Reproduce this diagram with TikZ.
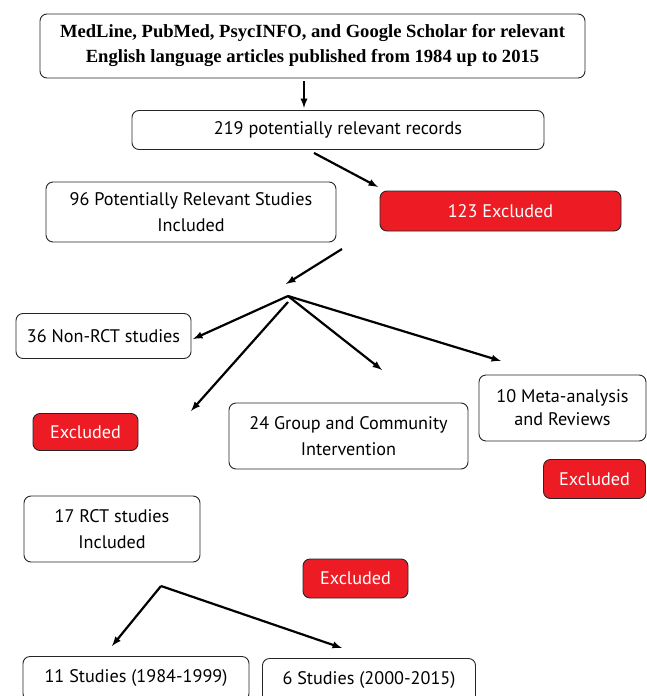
\documentclass[tikz,border=0pt]{standalone}
\usepackage{fontspec}
\setmainfont{PT Sans}
\newfontfamily\headfont{Liberation Serif}
\definecolor{exred}{HTML}{ED1C24}
\tikzset{
	recbox/.style={draw=black!85, rounded corners=7pt, line width=0.9pt, align=center, inner sep=0pt, font=\fontsize{18.2}{26.5}\selectfont},
	exbox/.style={recbox, fill=exred, text=white},
	flow/.style={-latex, line width=2.2pt},
}
\begin{document}
\begin{tikzpicture}[x=1pt, y=-1pt]
			\path[use as bounding box] (0,0) rectangle (647,696);
			% boxes
			\node[recbox, minimum width=545, minimum height=64, font=\headfont\bfseries\fontsize{18.6}{25}\selectfont] (search) at (312.5,46) {MedLine, PubMed, PsycINFO, and Google Scholar for relevant\\English language articles published from 1984 up to 2015};
			\node[recbox, minimum width=412, minimum height=39] (records) at (338,130) {219 potentially relevant records};
			\node[recbox, minimum width=290, minimum height=60] (relevant) at (191,212) {96 Potentially Relevant Studies\\Included};
			\node[exbox, minimum width=241, minimum height=40] (excl123) at (500.5,211) {123 Excluded};
			\node[recbox, minimum width=175, minimum height=45] (nonrct) at (103.5,336) {36 Non-RCT studies};
			\node[recbox, minimum width=167, minimum height=66, font=\fontsize{18.2}{23}\selectfont] (meta) at (562.5,408) {10 Meta-analysis\\and Reviews};
			\node[exbox, minimum width=105, minimum height=37] (exclA) at (85.5,432) {Excluded};
			\node[recbox, minimum width=239, minimum height=66] (group) at (348.5,436) {24 Group and Community\\Intervention};
			\node[exbox, minimum width=102, minimum height=39] (exclB) at (594.5,479) {Excluded};
			\node[recbox, minimum width=176, minimum height=66] (rct) at (112,529) {17 RCT studies\\Included};
			\node[exbox, minimum width=105, minimum height=39] (exclC) at (355.5,578.5) {Excluded};
			\node[recbox, minimum width=226, minimum height=44] (early) at (136,678.5) {11 Studies (1984-1999)};
			\node[recbox, minimum width=213, minimum height=44] (late) at (369,680.5) {6 Studies (2000-2015)};
			% arrow ends
			\coordinate (split1) at (288,296);
			\coordinate (split2) at (161,586);
			\coordinate (t1) at (304,108);
			\coordinate (t2) at (378,187);
			\coordinate (t3) at (286,284);
			\coordinate (t4) at (193,339);
			\coordinate (t5) at (191,411);
			\coordinate (t6) at (382,370);
			\coordinate (t7) at (501,361);
			\coordinate (t8) at (112,646);
			\coordinate (t9) at (342,648);
			% arrows
			\draw[flow] ([yshift=-3pt]search.south -| t1) -- (t1);
			\draw[flow] ([yshift=-3pt]records.south -| 314,0) -- (t2);
			\draw[flow] (342,249) -- (t3);
			\draw[flow] (split1) -- (t4);
			\draw[flow] ([yshift=-6pt]split1) -- (t5);
			\draw[flow] (split1) -- (t6);
			\draw[flow] (split1) -- (t7);
			\draw[flow] (split2) -- (t8);
			\draw[flow] (split2) -- (t9);
		\end{tikzpicture}
\end{document}
